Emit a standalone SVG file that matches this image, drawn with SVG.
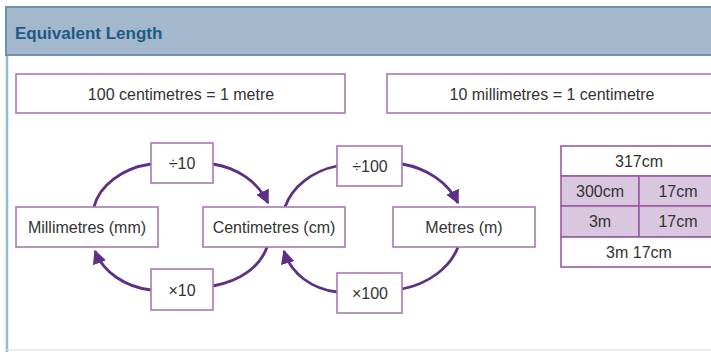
<svg xmlns="http://www.w3.org/2000/svg" width="711" height="352" viewBox="0 0 711 352">
<style>
  .box { fill: #ffffff; stroke: #a979b2; stroke-width: 1.6; }
  .t { font-family: "Liberation Sans", Arial, sans-serif; font-size: 16px; fill: #333333; text-anchor: middle; dominant-baseline: central; }
  .arc { fill: none; stroke: #5e2f86; stroke-width: 2.8; }
  .cell { fill: #d8c7de; stroke: #9a5aa3; stroke-width: 1.6; }
  .cellw { fill: #ffffff; stroke: #9a5aa3; stroke-width: 1.6; }
</style>
<defs>
  <marker id="ah" markerUnits="userSpaceOnUse" markerWidth="14" markerHeight="14" viewBox="0 0 10 10" refX="9" refY="5" orient="auto">
    <path d="M0,0 L10,5 L0,10 z" fill="#5e2f86"/>
  </marker>
</defs>
<rect x="0" y="0" width="711" height="352" fill="#ffffff"/>
<g id="frame">
  <line x1="7" y1="8" x2="7" y2="352" stroke="#8fbcd4" stroke-width="2.5"/>
  <line x1="7" y1="350" x2="711" y2="350" stroke="#e4e4e4" stroke-width="1.5"/>
  <rect x="6" y="7" width="710" height="48" fill="#a3b7cd" stroke="#6b91b3" stroke-width="2"/>
  <text x="15" y="33" font-family="Liberation Sans, Arial, sans-serif" font-size="17" font-weight="bold" fill="#1d5b84" dominant-baseline="central">Equivalent Length</text>
</g>
<g id="fact1">
  <rect class="box" x="16" y="74" width="329" height="39"/>
  <text class="t" x="181" y="94">100 centimetres = 1 metre</text>
</g>
<g id="fact2">
  <rect class="box" x="387" y="74" width="330" height="39"/>
  <text class="t" x="552" y="94">10 millimetres = 1 centimetre</text>
</g>
<g id="connectors">
  <path class="arc" d="M94,207 C99,186 122,168 151,164"/>
  <path class="arc" marker-end="url(#ah)" d="M213,164 C238,168 258,182 268,203"/>
  <path class="arc" d="M267,247 C260,267 240,281 213,286"/>
  <path class="arc" marker-end="url(#ah)" d="M151,290 C125,287 103,272 95,251"/>
  <path class="arc" d="M285,207 C292,187 312,171 337,166"/>
  <path class="arc" marker-end="url(#ah)" d="M402,164 C426,168 448,182 458,203"/>
  <path class="arc" d="M458,247 C450,268 428,284 402,289"/>
  <path class="arc" marker-end="url(#ah)" d="M337,292 C312,289 291,274 284,251"/>
</g>
<g id="div10">
  <rect class="box" x="151" y="143" width="62" height="40"/>
  <text class="t" x="182" y="163">÷10</text>
</g>
<g id="mm">
  <rect class="box" x="16" y="207" width="142" height="40"/>
  <text class="t" x="87" y="227">Millimetres (mm)</text>
</g>
<g id="cm">
  <rect class="box" x="203" y="207" width="142" height="40"/>
  <text class="t" x="274" y="227">Centimetres (cm)</text>
</g>
<g id="mul10">
  <rect class="box" x="151" y="269" width="62" height="41"/>
  <text class="t" x="182" y="290">×10</text>
</g>
<g id="div100">
  <rect class="box" x="337" y="146" width="65" height="40"/>
  <text class="t" x="370" y="166">÷100</text>
</g>
<g id="m">
  <rect class="box" x="393" y="207" width="142" height="40"/>
  <text class="t" x="464" y="227">Metres (m)</text>
</g>
<g id="mul100">
  <rect class="box" x="337" y="273" width="65" height="40"/>
  <text class="t" x="370" y="293">×100</text>
</g>
<g id="table">
  <rect class="cellw" x="561" y="146" width="156" height="30"/>
  <rect class="cell" x="561" y="176" width="78" height="30"/>
  <rect class="cell" x="639" y="176" width="78" height="30"/>
  <rect class="cell" x="561" y="206" width="78" height="31"/>
  <rect class="cell" x="639" y="206" width="78" height="31"/>
  <rect class="cellw" x="561" y="237" width="156" height="30"/>
  <text class="t" x="639" y="161">317cm</text>
  <text class="t" x="600" y="191">300cm</text>
  <text class="t" x="678" y="191">17cm</text>
  <text class="t" x="600" y="221">3m</text>
  <text class="t" x="678" y="221">17cm</text>
  <text class="t" x="639" y="252">3m 17cm</text>
</g>
</svg>
